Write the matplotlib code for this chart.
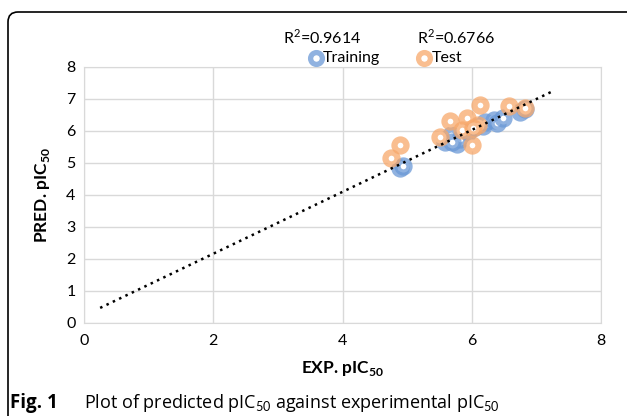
import numpy as np
import matplotlib
matplotlib.use('Agg')
from matplotlib import pyplot as plt
from matplotlib.patches import FancyBboxPatch

train_x = [4.89, 4.93, 5.59, 5.68, 5.77, 5.82, 5.70, 5.94, 6.05, 6.18, 6.21, 6.34, 6.39, 6.49, 6.75, 6.83]
train_y = [4.84, 4.90, 5.66, 5.88, 5.58, 5.75, 5.65, 5.98, 6.13, 6.15, 6.29, 6.34, 6.24, 6.40, 6.60, 6.70]
test_x = [4.75, 4.89, 5.51, 5.67, 5.92, 6.13, 6.00, 6.57, 6.83, 5.85, 6.10, 6.02]
test_y = [5.16, 5.56, 5.80, 6.32, 6.40, 6.81, 5.56, 6.78, 6.71, 6.03, 6.19, 6.10]
trend_x = [0.25, 7.27]
trend_slope = 0.967
trend_icpt = 0.23
r2_train = 0.9614
r2_test = 0.6766

plt.rcParams['font.family'] = ['Lato', 'DejaVu Sans']
plt.rcParams['mathtext.fontset'] = 'custom'
plt.rcParams['mathtext.rm'] = 'Lato'
plt.rcParams['mathtext.bf'] = 'Lato:bold'

fig = plt.figure(figsize=(6.27, 4.16), dpi=100)
ax = fig.add_axes([84/627, 1-323/416, 517/627, 256/416])

blue = (0.42, 0.6, 0.84, 0.75)
orange = (0.97, 0.66, 0.42, 0.75)
ax.scatter(train_x, train_y, s=75, facecolors='white', edgecolors=[blue], linewidths=4.5, zorder=3)
ax.scatter(test_x, test_y, s=75, facecolors='white', edgecolors=[orange], linewidths=4.5, zorder=3)
tx = np.array(trend_x)
ax.plot(tx, trend_slope*tx + trend_icpt, color='black', ls=(0, (1, 1.8)), lw=1.8, zorder=4)

ax.set_xlim(0, 8)
ax.set_ylim(0, 8)
ax.set_xticks([0, 2, 4, 6, 8])
ax.set_yticks(range(9))
ax.grid(color='#d9d9d9', lw=1)
ax.set_axisbelow(True)
for s in ax.spines.values():
        s.set_color('#d9d9d9')
ax.tick_params(length=0, labelsize=11.5, colors='black')
ax.tick_params(axis='y', pad=6)
ax.tick_params(axis='x', pad=8)
ax.set_xlabel(r'EXP. pIC$_{\mathbf{50}}$', fontsize=12.5, fontweight='bold', labelpad=8)
ax.set_ylabel(r'PRED. pIC$_{\mathbf{50}}$', fontsize=12.5, fontweight='bold', labelpad=10)

# legend + R2 above the plot
fig.text(322/627, 1-37/416, r'R$^2$=%.4f' % r2_train, fontsize=11.5, ha='center', va='center')
fig.text(456/627, 1-37/416, r'R$^2$=%.4f' % r2_test, fontsize=11.5, ha='center', va='center')
fig.add_artist(plt.Line2D([316/627], [1-58/416], marker='o', ms=8.5, mfc='white', mec=blue, mew=3.8))
fig.add_artist(plt.Line2D([424/627], [1-58/416], marker='o', ms=8.5, mfc='white', mec=orange, mew=3.8))
fig.text(323/627, 1-58/416, 'Training', fontsize=11.5, va='center')
fig.text(432/627, 1-58/416, 'Test', fontsize=11.5, va='center')

# frame (open to the right and bottom) and caption
fig.add_artist(FancyBboxPatch((0.08, -1.0), 7.0, 4.16 - 0.12 + 1.0,
        boxstyle='round,pad=0,rounding_size=0.1', transform=fig.dpi_scale_trans,
        fc='none', ec='black', lw=1.2, clip_on=False))
fig.text(10/627, 1-403/416, 'Fig. 1', fontsize=13.5, fontweight='bold', va='center', family=['Open Sans', 'DejaVu Sans'])
fig.text(84/627, 1-403/416, r'Plot of predicted pIC$_{50}$ against experimental pIC$_{50}$', fontsize=13,
        va='center', family=['Open Sans', 'DejaVu Sans'])

fig.savefig('out.png', dpi=100)
